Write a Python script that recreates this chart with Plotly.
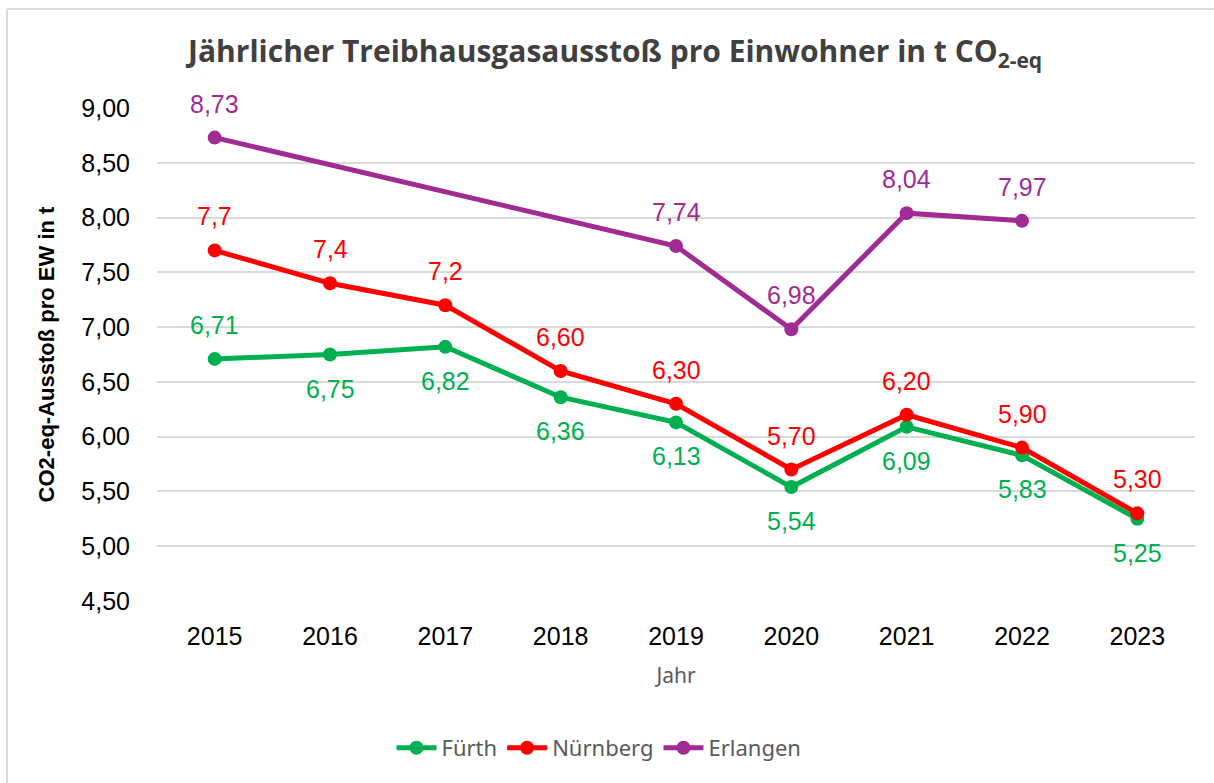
import plotly.graph_objects as go

years = ["2015", "2016", "2017", "2018", "2019", "2020", "2021", "2022", "2023"]
fuerth = [6.71, 6.75, 6.82, 6.36, 6.13, 5.54, 6.09, 5.83, 5.25]
fuerth_labels = ["6,71", "6,75", "6,82", "6,36", "6,13", "5,54", "6,09", "5,83", "5,25"]
fuerth_pos = ["above", "below", "below", "below", "below", "below", "below", "below", "below"]
nuernberg = [7.7, 7.4, 7.2, 6.60, 6.30, 5.70, 6.20, 5.90, 5.30]
nuernberg_labels = ["7,7", "7,4", "7,2", "6,60", "6,30", "5,70", "6,20", "5,90", "5,30"]
erlangen = [8.73, None, None, None, 7.74, 6.98, 8.04, 7.97, None]
erlangen_labels = ["8,73", "", "", "", "7,74", "6,98", "8,04", "7,97", ""]
y_ticks = [4.5, 5.0, 5.5, 6.0, 6.5, 7.0, 7.5, 8.0, 8.5, 9.0]
y_ticktext = ["4,50", "5,00", "5,50", "6,00", "6,50", "7,00", "7,50", "8,00", "8,50", "9,00"]

C_F = "#00B050"
C_N = "#FF0000"
C_E = "#A02B93"

fig = go.Figure()
for name, vals, col in [("Fürth", fuerth, C_F), ("Nürnberg", nuernberg, C_N), ("Erlangen", erlangen, C_E)]:
    fig.add_trace(go.Scatter(
        x=years, y=vals, name=name, mode="lines+markers", connectgaps=True,
        line=dict(color=col, width=5), marker=dict(color=col, size=14),
    ))

annotations = []
def add_labels(vals, labels, col, positions):
    for i, (v, t, p) in enumerate(zip(vals, labels, positions)):
        if v is None or not t:
            continue
        annotations.append(dict(x=i, y=v, xref="x", yref="y", text=t, showarrow=False,
                                yshift=34 if p == "above" else -34,
                                font=dict(family="Liberation Sans, Arial", size=25, color=col)))

add_labels(fuerth, fuerth_labels, C_F, fuerth_pos)
add_labels(nuernberg, nuernberg_labels, C_N, ["above"] * 9)
add_labels(erlangen, erlangen_labels, C_E, ["above"] * 9)

annotations.append(dict(
    x=0.44, y=1.0, xref="paper", yref="paper", yshift=56, showarrow=False,
    xanchor="center", yanchor="middle",
    text="<b>Jährlicher Treibhausgasausstoß pro Einwohner in t CO<sub>2-eq</sub></b>",
    font=dict(family="Open Sans", size=30, color="#404040")))

L, R, T, B = 157, 19, 108, 182
PW, PH = 1214 - L - R, 783 - T - B
def px(xp):
    return (xp - L) / PW
def py(yp):
    return (783 - B - yp) / PH

shapes = [
    dict(type="line", xref="paper", yref="paper", x0=px(7), x1=px(1214), y0=py(9), y1=py(9),
         line=dict(color="#D9D9D9", width=2)),
    dict(type="line", xref="paper", yref="paper", x0=px(7), x1=px(7), y0=py(9), y1=py(783),
         line=dict(color="#D9D9D9", width=2)),
]

fig.update_layout(
    width=1214, height=783,
    margin=dict(l=L, r=R, t=T, b=B, autoexpand=False),
    paper_bgcolor="white", plot_bgcolor="white",
    showlegend=True,
    legend=dict(orientation="h", x=(599 - L) / PW, xanchor="center", y=-(748 - 601) / PH, yanchor="middle",
                font=dict(family="Noto Sans", size=22, color="#595959"),
                itemwidth=40, tracegroupgap=0),
    annotations=annotations,
    shapes=shapes,
    xaxis=dict(type="category", range=[-0.5, 8.5], showgrid=False, zeroline=False,
               showline=False, ticks="", ticklabelstandoff=18,
               tickfont=dict(family="Liberation Sans, Arial", size=25, color="#000000"),
               title=dict(text="Jahr", standoff=19,
                          font=dict(family="Noto Sans", size=21, color="#595959"))),
    yaxis=dict(range=[4.5, 9.0], tickvals=y_ticks, ticktext=y_ticktext,
               showgrid=True, gridcolor="#D9D9D9", gridwidth=1.5, zeroline=False,
               showline=False, ticks="", ticklabelstandoff=26,
               tickfont=dict(family="Liberation Sans, Arial", size=25, color="#000000"),
               title=dict(text="<b>CO2-eq-Ausstoß pro EW in t</b>", standoff=20,
                          font=dict(family="Liberation Sans, Arial", size=22, color="#000000"))),
)

fig.write_html("out.html", config={"displayModeBar": False},
               post_script="document.body.style.margin='0';")
